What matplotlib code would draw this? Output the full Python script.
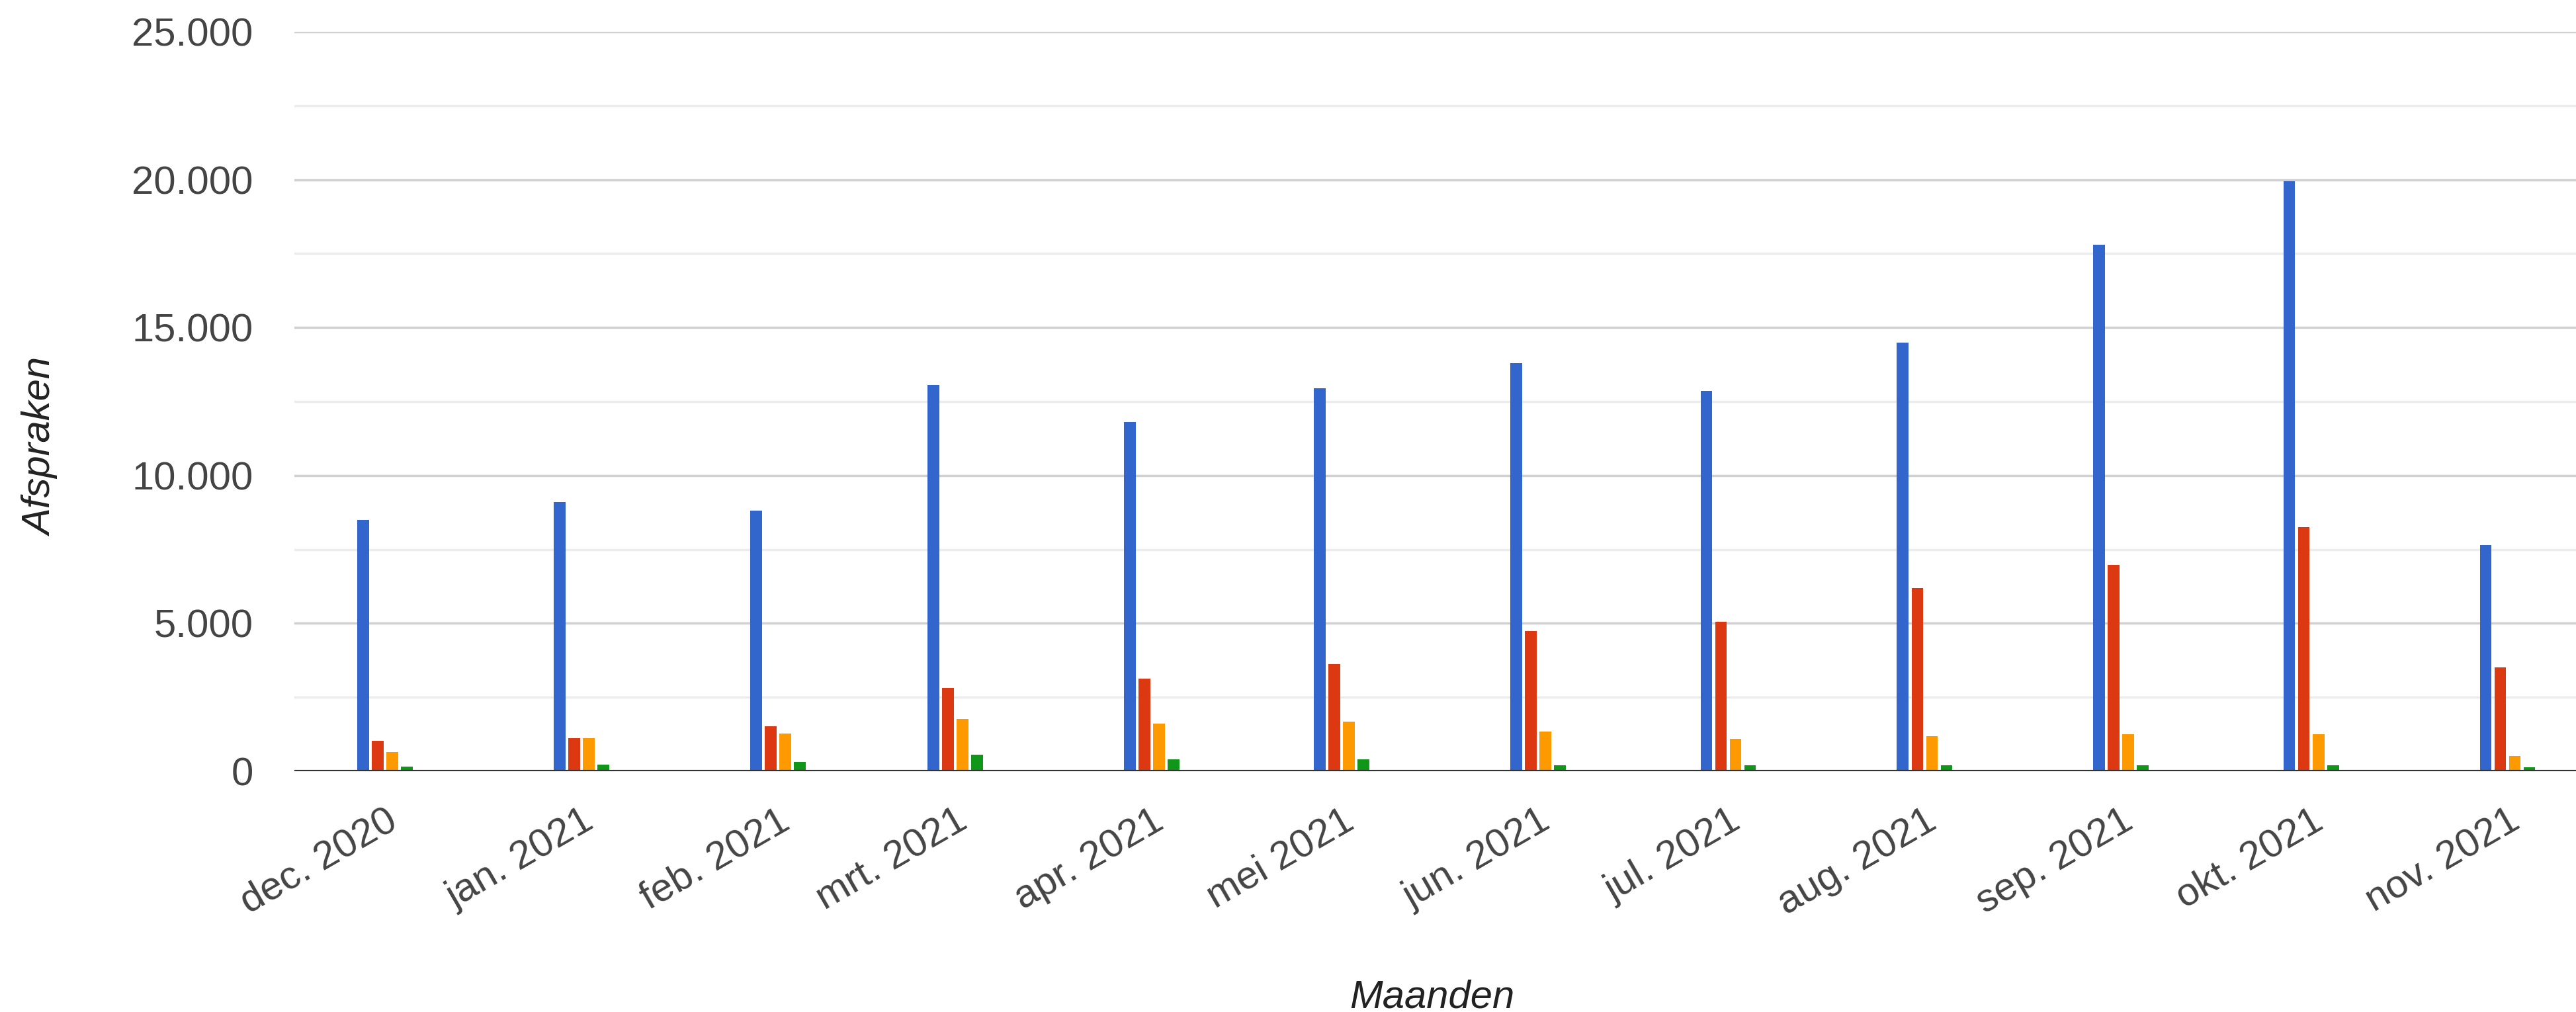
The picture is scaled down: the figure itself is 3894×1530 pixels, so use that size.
import datetime as dt
import matplotlib
matplotlib.use("Agg")
import matplotlib.pyplot as plt
import matplotlib.dates as mdates
from matplotlib.ticker import FuncFormatter, MultipleLocator

months = [dt.datetime(2020, 12, 1)] + [dt.datetime(2021, m, 1) for m in range(1, 12)]
month_labels = ["dec. 2020", "jan. 2021", "feb. 2021", "mrt. 2021", "apr. 2021", "mei 2021",
                "jun. 2021", "jul. 2021", "aug. 2021", "sep. 2021", "okt. 2021", "nov. 2021"]

blue = [8500, 9100, 8800, 13050, 11800, 12950, 13800, 12850, 14500, 17800, 19950, 7650]
red = [1030, 1110, 1520, 2820, 3140, 3630, 4750, 5050, 6200, 6980, 8250, 3520]
orange = [640, 1110, 1270, 1770, 1610, 1680, 1350, 1100, 1190, 1260, 1260, 520]
green = [150, 220, 310, 550, 400, 400, 200, 200, 200, 200, 200, 130]

series = [blue, red, orange, green]
colors = ["#3366cc", "#dc3912", "#ff9900", "#109618"]

W, H = 3894, 1530
fig = plt.figure(figsize=(W / 100, H / 100), dpi=100)
left, top, bottom = 445, 48, 1166
ax = fig.add_axes([left / W, 1 - bottom / H, 1 - left / W, (bottom - top) / H])

x = mdates.date2num(months)
pitch = 2.3   # days between bars in a group
width = 1.85
for i, (vals, c) in enumerate(zip(series, colors)):
    ax.bar(x + (i - 1.5) * pitch, vals, width=width, color=c, zorder=3)

ax.set_ylim(0, 25000)
ax.set_xlim(x[0] - 14.3, x[-1] + 10.8)
ax.yaxis.set_major_locator(MultipleLocator(5000))
ax.yaxis.set_minor_locator(MultipleLocator(2500))
ax.yaxis.set_major_formatter(FuncFormatter(lambda v, p: f"{int(v):,}".replace(",", ".")))
ax.grid(axis="y", which="major", color="#d0d0d0", lw=2.5, zorder=0)
ax.grid(axis="y", which="minor", color="#ececec", lw=2.5, zorder=0)
ax.axhline(0, color="#333333", lw=3, zorder=4)

for s in ax.spines.values():
    s.set_visible(False)

ax.set_xticks(x)
ax.set_xticklabels(month_labels)
ax.tick_params(axis="both", which="both", length=0, labelsize=43, labelcolor="#444444",
               labelfontfamily="Liberation Sans")
ax.tick_params(axis="y", pad=45)
ax.tick_params(axis="x", pad=34)
for lbl in ax.get_xticklabels():
    lbl.set_rotation(30)
    lbl.set_ha("right")
    lbl.set_va("top")
    lbl.set_rotation_mode("anchor")

fig.text(62 / W, 1 - 675 / H, "Afspraken", rotation=90, ha="center", va="center",
         fontsize=43, style="italic", color="#222222", family="Liberation Sans")
fig.text(2165 / W, 1 - 1523 / H, "Maanden", ha="center", va="baseline",
         fontsize=43, style="italic", color="#222222", family="Liberation Sans")

fig.savefig("out.png", dpi=100, facecolor="white")
